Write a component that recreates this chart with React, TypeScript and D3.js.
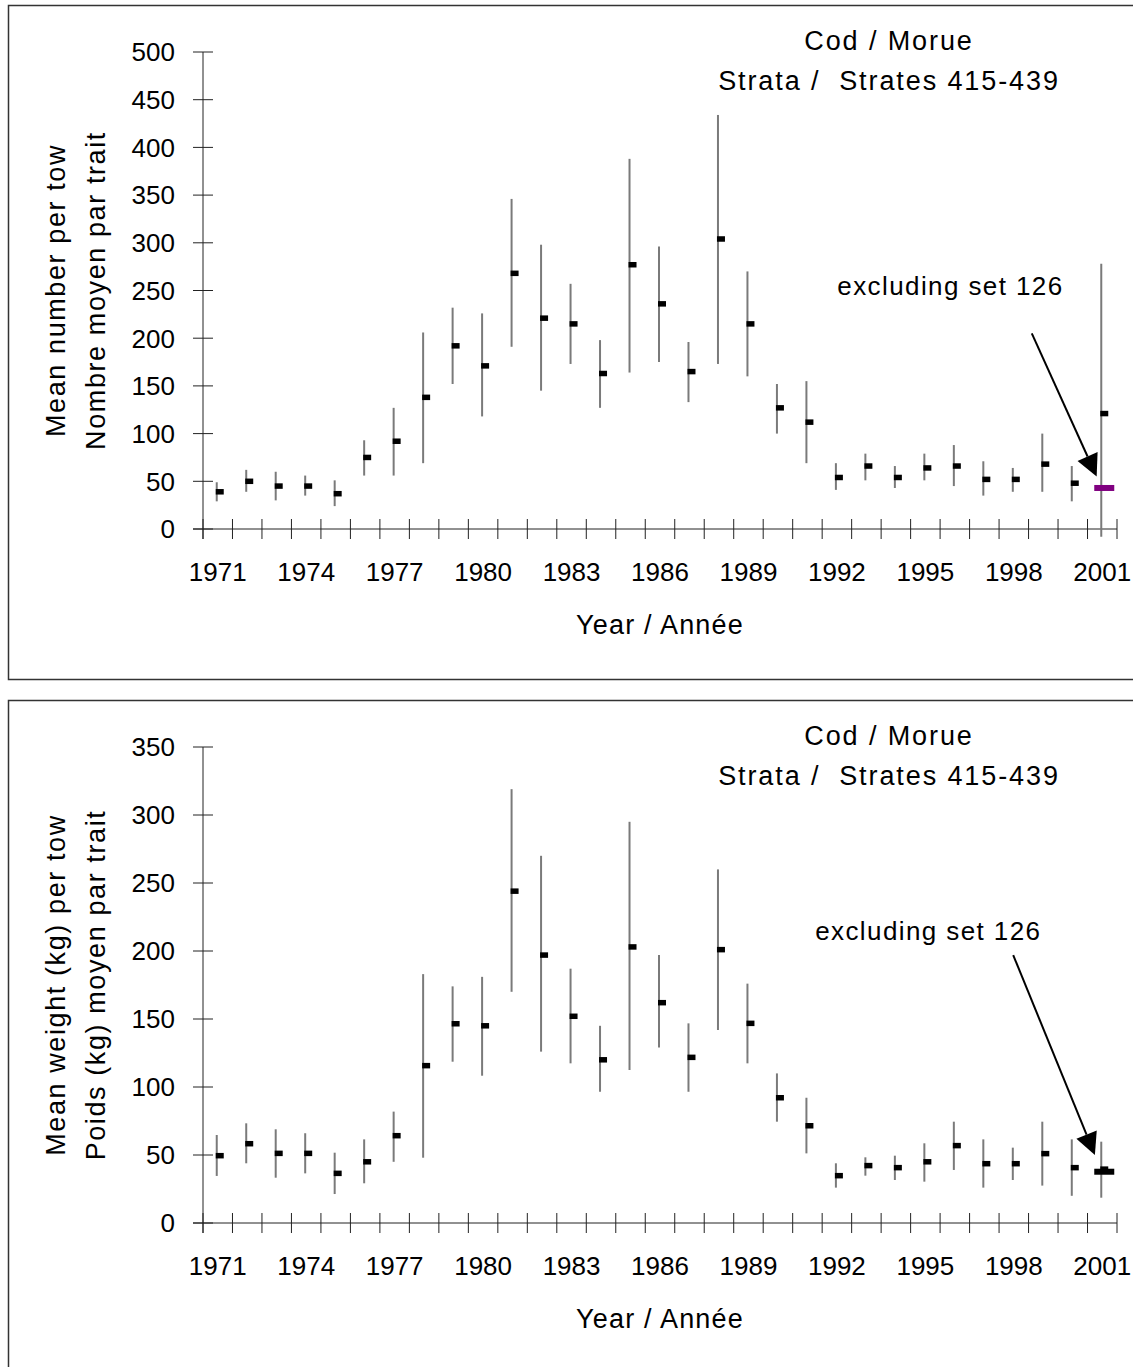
import React from "react";
import * as d3 from "d3";

const years = [
  "1971", "1972", "1973", "1974", "1975", "1976", "1977", "1978", "1979", "1980",
  "1981", "1982", "1983", "1984", "1985", "1986", "1987", "1988", "1989", "1990",
  "1991", "1992", "1993", "1994", "1995", "1996", "1997", "1998", "1999", "2000", "2001",
];
const labelYears = ["1971", "1974", "1977", "1980", "1983", "1986", "1989", "1992", "1995", "1998", "2001"];

// mean number per tow, with the low / high ends of the bars
const numberMean = [39, 50, 45, 45, 37, 75, 92, 138, 192, 171, 268, 221, 215, 163, 277, 236, 165, 304, 215, 127, 112, 54, 66, 54, 64, 66, 52, 52, 68, 48, 121];
const numberLow = [29, 39, 30, 35, 24, 56, 56, 69, 152, 118, 191, 145, 173, 127, 164, 175, 133, 173, 160, 100, 69, 41, 51, 43, 51, 45, 35, 39, 39, 29, -8];
const numberHigh = [49, 62, 60, 56, 51, 93, 127, 206, 232, 226, 346, 298, 257, 198, 388, 296, 196, 434, 270, 152, 155, 69, 79, 66, 79, 88, 71, 64, 100, 66, 278];
const numberExcluding = 43;

// mean weight (kg) per tow
const weightMean = [49.5, 58.3, 51.2, 51.2, 36.5, 45, 64.2, 115.7, 146.5, 145, 244, 197, 152, 120, 203, 162, 121.8, 201, 146.8, 92.1, 71.5, 34.8, 42.2, 40.7, 45, 56.9, 43.6, 43.6, 51, 40.7, 39.6];
const weightLow = [34.6, 43.9, 33.3, 36.5, 21.3, 29.2, 45, 48, 118.6, 108.3, 170, 126, 117.4, 96.5, 112.5, 129, 96.5, 141.9, 117.4, 74.5, 51.2, 26, 34.8, 31.6, 30.4, 39, 26, 31.6, 27.5, 20, 18.6];
const weightHigh = [64.7, 73.3, 68.9, 66, 51.7, 61.5, 81.9, 183, 174, 181, 319, 270, 187, 145, 295, 197, 146.8, 260, 176, 110, 92.1, 43.9, 48.3, 49.5, 58.6, 74.5, 61.5, 55.4, 74.5, 61.5, 59.8];
const weightExcluding = 37.7;

const FONT = "'Liberation Sans', Arial, sans-serif";

type PanelProps = {
  boxTop: number;
  boxHeight: number;
  yTop: number;
  yZero: number;
  yMax: number;
  yStep: number;
  mean: number[];
  low: number[];
  high: number[];
  excluding: number;
  excludingColor: string;
  yTitle1: string;
  yTitle2: string;
  note: { year: number; value: number };
  arrowFrom: { year: number; value: number };
  arrowTo: { year: number; value: number };
};

const Panel = (p: PanelProps) => {
  const left = 203;
  const right = 1117;
  const x = d3.scaleBand().domain(years).range([left, right]).padding(0);
  const xYear = d3.scaleLinear().domain([1970.5, 2001.5]).range([left, right]);
  const y = d3.scaleLinear().domain([0, p.yMax]).range([p.yZero, p.yTop]);
  const bw = x.bandwidth();
  const cx = (yr: string) => (x(yr) as number) + bw / 2;
  const yTicks = d3.range(0, p.yMax + 1, p.yStep);
  const boundaries = d3.range(years.length + 1).map((k) => left + k * bw);
  const midY = (p.yTop + p.yZero) / 2;

  // arrow geometry
  const x1 = xYear(p.arrowFrom.year), y1 = y(p.arrowFrom.value);
  const x2 = xYear(p.arrowTo.year), y2 = y(p.arrowTo.value);
  const len = Math.hypot(x2 - x1, y2 - y1);
  const ux = (x2 - x1) / len, uy = (y2 - y1) / len;
  const headL = 22, headW = 11;
  const bx = x2 - ux * headL, by = y2 - uy * headL;
  const head = [
    [x2, y2],
    [bx - uy * headW, by + ux * headW],
    [bx + uy * headW, by - ux * headW],
  ];

  const last = years[years.length - 1];

  return (
    <g>
      <rect x={8.5} y={p.boxTop + 0.5} width={1140} height={p.boxHeight} fill="white" stroke="#333" strokeWidth={1.5} />

      {/* titles */}
      <text x={889} y={p.boxTop + 45} textAnchor="middle" fontSize={27} letterSpacing={1.9} fontFamily={FONT}>Cod / Morue</text>
      <text x={889} y={p.boxTop + 85} textAnchor="middle" fontSize={27} letterSpacing={1.9} fontFamily={FONT} style={{ whiteSpace: "pre" }}>Strata /  Strates 415-439</text>

      {/* y axis */}
      <line x1={left} x2={left} y1={p.yTop} y2={p.yZero + 10} stroke="#222" strokeWidth={1} />
      {yTicks.map((t) => (
        <g key={t}>
          <line x1={left - 10} x2={left + 10} y1={y(t)} y2={y(t)} stroke="#222" strokeWidth={1} />
          <text x={175} y={y(t)} dy="0.36em" textAnchor="end" fontSize={26} fontFamily={FONT}>{t}</text>
        </g>
      ))}

      {/* x axis */}
      <line x1={left - 10} x2={right} y1={p.yZero} y2={p.yZero} stroke="#222" strokeWidth={1} />
      {boundaries.map((bx0, i) => (
        <line key={i} x1={bx0} x2={bx0} y1={p.yZero - 10} y2={p.yZero + 10} stroke="#222" strokeWidth={1} />
      ))}
      {labelYears.map((yr) => (
        <text key={yr} x={cx(yr)} y={p.yZero + 52} textAnchor="middle" fontSize={26} fontFamily={FONT}>{yr}</text>
      ))}
      <text x={(left + right) / 2} y={p.yZero + 105} textAnchor="middle" fontSize={27} letterSpacing={1.2} fontFamily={FONT}>Year / Année</text>

      {/* y titles */}
      <text transform={`translate(65,${midY}) rotate(-90)`} textAnchor="middle" fontSize={27} letterSpacing={1.6} fontFamily={FONT}>{p.yTitle1}</text>
      <text transform={`translate(105,${midY}) rotate(-90)`} textAnchor="middle" fontSize={27} letterSpacing={1.6} fontFamily={FONT}>{p.yTitle2}</text>

      {/* error bars */}
      {years.map((yr, i) => (
        <line key={yr} x1={cx(yr) - 1} x2={cx(yr) - 1} y1={y(p.low[i])} y2={y(p.high[i])} stroke="#7a7a7a" strokeWidth={2} />
      ))}
      {/* means */}
      {years.map((yr, i) => (
        <rect key={yr} x={cx(yr) - 2} y={y(p.mean[i]) - 2.75} width={8} height={5.5} fill="black" />
      ))}
      {/* mean excluding set 126 */}
      <rect x={cx(last) - 8} y={y(p.excluding) - 3} width={20} height={6} fill={p.excludingColor} />

      {/* annotation */}
      <text x={xYear(p.note.year)} y={y(p.note.value)} textAnchor="middle" fontSize={26} letterSpacing={1.4} fontFamily={FONT}>excluding set 126</text>
      <line x1={x1} y1={y1} x2={bx} y2={by} stroke="black" strokeWidth={2} />
      <polygon points={head.map((q) => q.join(",")).join(" ")} fill="black" />
    </g>
  );
};

export default function App() {
  return (
    <svg width={1133} height={1367} style={{ position: "absolute", left: 0, top: 0, display: "block" }}>
      <rect width={1133} height={1367} fill="white" />
      <Panel
        boxTop={5}
        boxHeight={674}
        yTop={52}
        yZero={529}
        yMax={500}
        yStep={50}
        mean={numberMean}
        low={numberLow}
        high={numberHigh}
        excluding={numberExcluding}
        excludingColor="#800080"
        yTitle1="Mean number per tow"
        yTitle2="Nombre moyen par trait"
        note={{ year: 1995.85, value: 245 }}
        arrowFrom={{ year: 1998.61, value: 205 }}
        arrowTo={{ year: 2000.81, value: 55 }}
      />
      <Panel
        boxTop={700}
        boxHeight={700}
        yTop={747}
        yZero={1223}
        yMax={350}
        yStep={50}
        mean={weightMean}
        low={weightLow}
        high={weightHigh}
        excluding={weightExcluding}
        excludingColor="black"
        yTitle1="Mean weight (kg) per tow"
        yTitle2="Poids (kg) moyen par trait"
        note={{ year: 1995.1, value: 208 }}
        arrowFrom={{ year: 1997.98, value: 197 }}
        arrowTo={{ year: 2000.75, value: 50 }}
      />
    </svg>
  );
}
